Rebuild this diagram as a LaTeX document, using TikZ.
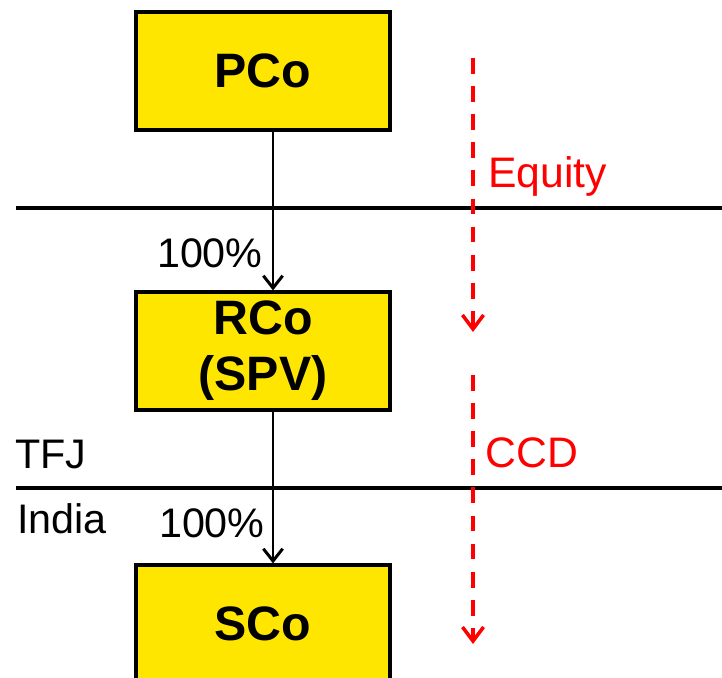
\documentclass[tikz,border=0pt]{standalone}
\usepackage{fontspec}
\setmainfont{Liberation Sans}
\usetikzlibrary{arrows.meta}

\begin{document}
\begin{tikzpicture}[x=0.02cm, y=-0.02cm,
  box/.style={draw=black, fill=colBox, line width=1.8pt, inner sep=0pt,
    minimum width=5.08cm, minimum height=2.36cm, align=center,
    font=\fontsize{27.5}{32}\selectfont\bfseries},
  conn/.style={draw=black, line width=1.7pt, -{Straight Barb[length=7pt,width=11pt]}},
  flow/.style={draw=colFlow, line width=2pt, dash pattern=on 9pt off 7pt,
    -{Straight Barb[length=8pt,width=12pt]}},
  sep/.style={draw=black, line width=1.8pt},
  lbl/.style={inner sep=0pt, font=\fontsize{23.5}{27}\selectfont},
  redlbl/.style={inner sep=0pt, text=colFlow, font=\fontsize{24.3}{28}\selectfont}]

% Colori
\definecolor{colBox}{HTML}{FFE600}
\definecolor{colFlow}{HTML}{FF0000}

% Area del disegno
\useasboundingbox (0,0) rectangle (722,678);
\clip (0,0) rectangle (722,678);

% Linee di confine
\draw[sep] (16,208) -- (722,208);
\draw[sep] (16,488) -- (722,488);

% Societa'
\node[box] (pco) at (263,71) {PCo};
\node[box] (rco) at (263,351) {\raisebox{-3pt}{RCo}\\\raisebox{-3pt}{(SPV)}};
\node[box] (sco) at (263,624) {SCo};

% Partecipazioni
\draw[conn] ([xshift=0.2cm]pco.south) -- ([xshift=0.2cm]rco.north);
\draw[conn] ([xshift=0.2cm]rco.south) -- ([xshift=0.2cm]sco.north);
\node[lbl, anchor=base east] (pctA) at (263,268) {100\%};
\node[lbl, anchor=base east] (pctB) at (265,537) {100\%};

% Giurisdizioni
\node[lbl, anchor=base west] (tfj) at (15,468) {TFJ};
\node[lbl, anchor=base west] (india) at (17,533) {India};

% Flussi di finanziamento
\coordinate (eqTop) at (473,58);
\coordinate (eqEnd) at (473,332);
\coordinate (ccdTop) at (473,375);
\coordinate (ccdEnd) at (473,644);
\draw[flow] (eqTop) -- (eqEnd);
\draw[flow] (ccdTop) -- (ccdEnd);
\node[redlbl, anchor=base west] (equity) at (488,188) {Equity};
\node[redlbl, anchor=base west] (ccd) at (485,467) {CCD};

\end{tikzpicture}
\end{document}
